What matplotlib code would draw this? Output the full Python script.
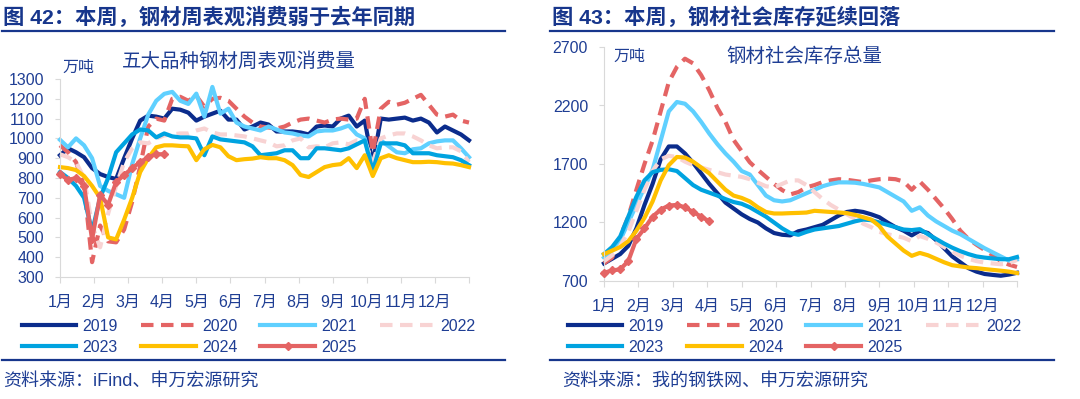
import numpy as np
import matplotlib
matplotlib.use('Agg')
import matplotlib.pyplot as plt
from matplotlib.lines import Line2D

plt.rcParams['font.family'] = ['Liberation Sans', 'Noto Sans CJK SC', 'DejaVu Sans']

TXT = '#1F3E94'
NAVY = '#17368C'
years = ['2019', '2020', '2021', '2022', '2023', '2024', '2025']
colors = ['#0B2C8C', '#E46464', '#5FD0FF', '#F8D3D3', '#00A3E0', '#FFC000', '#E46464']
months = ['1月', '2月', '3月', '4月', '5月', '6月', '7月', '8月', '9月', '10月', '11月', '12月']

# 五大品种钢材周表观消费量 (万吨), weekly
cons_2019 = [915, 950, 930, 905, 850, 820, 805, 795, 900, 1000, 1090, 1115, 1110, 1100, 1150, 1145, 1130, 1090,
             1110, 1125, 1140, 1095, 1095, 1045, 1060, 1080, 1070, 1035, 1035, 1035, 1030, 1020, 1060, 1065, 1060,
             1100, 1115, 1060, 1090, 870, 1100, 1095, 1100, 1105, 1090, 1100, 1080, 1030, 1060, 1040, 1020, 990]
cons_2020 = [965, 930, 880, 760, 375, 560, 480, 475, 540, 680, 860, 1060, 1100, 1090, 1200, 1210, 1190, 1215,
             1160, 1200, 1205, 1190, 1150, 1110, 1080, 1060, 1055, 1050, 1060, 1080, 1095, 1100, 1090, 1080, 1095,
             1100, 1095, 1100, 1200, 930, 1150, 1185, 1170, 1180, 1200, 1220, 1170, 1120, 1110, 1120, 1090, 1080]
cons_2021 = [993, 955, 1000, 965, 900, 760, 735, 718, 700, 870, 1000, 1120, 1190, 1225, 1235, 1190, 1174, 1226,
             1110, 1260, 1125, 1150, 1080, 1060, 1050, 1040, 1060, 1045, 1030, 1025, 1015, 1010, 1035, 1040, 1040,
             1050, 1065, 1020, 1000, 850, 990, 960, 930, 925, 945, 950, 975, 985, 990, 990, 950, 905]
cons_2022 = [920, 905, 880, 800, 560, 450, 620, 760, 880, 950, 980, 975, 1000, 1015, 1020, 1025, 1025, 1040,
             1050, 1030, 1020, 1020, 1015, 1010, 1000, 990, 980, 960, 965, 990, 1000, 955, 960, 955, 975,
             980, 970, 990, 985, 880, 1000, 1015, 1025, 1025, 1010, 990, 965, 950, 955, 955, 935, 880]
cons_2023 = [830, 800, 760, 700, 530, 700, 800, 930, 975, 1020, 1045, 1040, 1005, 1025, 1010, 1005, 1005, 1000,
             915, 1010, 995, 990, 985, 980, 960, 915, 920, 925, 940, 940, 900, 900, 950, 950, 945,
             940, 950, 970, 990, 835, 975, 975, 975, 965, 925, 925, 925, 915, 910, 905, 890, 865]
cons_2024 = [855, 850, 840, 810, 760, 700, 500, 490, 590, 700, 830, 900, 955, 965, 965, 962, 960, 890,
             945, 967, 955, 910, 890, 895, 898, 905, 900, 900, 890, 865, 815, 805, 830, 855, 865,
             870, 900, 850, 915, 810, 900, 915, 900, 890, 880, 880, 882, 880, 875, 873, 865, 855]
cons_2025 = [820, 790, 800, 760, 490, 715, 665, 780, 815, 850, 880, 905, 920, 920]

# 钢材社会库存总量 (万吨), weekly
stock_2019 = [850, 890, 930, 1000, 1150, 1350, 1530, 1740, 1850, 1850, 1790, 1710, 1620, 1530, 1450, 1370, 1320,
              1270, 1230, 1200, 1150, 1110, 1095, 1090, 1125, 1140, 1160, 1180, 1220, 1260, 1290, 1300, 1290,
              1270, 1245, 1200, 1160, 1130, 1090, 1130, 1110, 1050, 980, 910, 860, 810, 780, 760, 752, 745, 755, 770]
stock_2020 = [850, 900, 1080, 1250, 1480, 1700, 1900, 2150, 2400, 2530, 2600, 2560, 2460, 2330, 2180, 2060, 1906,
              1810, 1715, 1650, 1590, 1530, 1477, 1440, 1460, 1500, 1520, 1545, 1560, 1570, 1565, 1555, 1545,
              1560, 1570, 1575, 1570, 1550, 1480, 1550, 1480, 1400, 1320, 1230, 1130, 1060, 1010, 965, 920, 870, 840, 820]
stock_2021 = [900, 960, 1050, 1200, 1350, 1500, 1650, 1900, 2150, 2230, 2215, 2150, 2060, 1960, 1870, 1790, 1720,
              1640, 1610, 1520, 1430, 1390, 1380, 1390, 1420, 1450, 1480, 1510, 1530, 1543, 1543, 1540, 1530,
              1515, 1500, 1460, 1420, 1380, 1300, 1330, 1260, 1210, 1170, 1130, 1100, 1060, 1020, 980, 945, 910, 875, 885]
stock_2022 = [870, 920, 1000, 1120, 1300, 1480, 1640, 1740, 1770, 1760, 1720, 1690, 1670, 1650, 1630, 1610, 1600,
              1590, 1570, 1540, 1510, 1500, 1530, 1560, 1560, 1520, 1460, 1400, 1350, 1310, 1270, 1230, 1190,
              1160, 1120, 1100, 1085, 1070, 1040, 1085, 1060, 1030, 990, 950, 915, 890, 870, 857, 850, 843, 850, 880]
stock_2023 = [930, 990, 1080, 1250, 1420, 1560, 1630, 1650, 1655, 1640, 1580, 1520, 1480, 1455, 1430, 1400, 1375,
              1360, 1330, 1290, 1250, 1200, 1150, 1110, 1095, 1120, 1140, 1150, 1160, 1170, 1190, 1210, 1225,
              1220, 1200, 1180, 1160, 1140, 1135, 1143, 1100, 1060, 1020, 985, 955, 930, 910, 900, 893, 886, 886, 905]
stock_2024 = [930, 960, 990, 1040, 1130, 1240, 1380, 1560, 1690, 1760, 1755, 1720, 1670, 1620, 1550, 1480, 1430,
              1410, 1380, 1330, 1290, 1277, 1277, 1280, 1282, 1285, 1300, 1295, 1290, 1286, 1280, 1265, 1245,
              1225, 1170, 1080, 1020, 960, 915, 940, 920, 890, 860, 835, 825, 815, 810, 802, 795, 788, 780, 768]
stock_2025 = [770, 790, 800, 870, 1060, 1150, 1250, 1310, 1345, 1350, 1330, 1290, 1250, 1210]

cons = [cons_2019, cons_2020, cons_2021, cons_2022, cons_2023, cons_2024, cons_2025]
stock = [stock_2019, stock_2020, stock_2021, stock_2022, stock_2023, stock_2024, stock_2025]

W, H = 1080, 399


def px(x, y):
    return x / W, 1 - y / H


def draw(ax, series, ylim, yticks):
    lines = []
    for yr, vals, c in zip(years, series, colors):
        x = np.arange(len(vals))
        if yr == '2025':
            ln, = ax.plot(x, vals, color=c, lw=3, marker='D', ms=4.5, zorder=5, clip_on=False)
        elif yr in ('2020', '2022'):
            ln, = ax.plot(x, vals, color=c, lw=3, ls=(0, (3, 1.8)), clip_on=False)
        else:
            ln, = ax.plot(x, vals, color=c, lw=3, clip_on=False)
        lines.append(ln)
    ax.set_xlim(0, 51)
    ax.set_ylim(*ylim)
    ax.set_xticks(np.arange(13) * 51 / 12)
    ax.set_xticklabels(months + [''])
    ax.set_yticks(yticks)
    for s in ['top', 'right']:
        ax.spines[s].set_visible(False)
    for s in ['left', 'bottom']:
        ax.spines[s].set_color('#D9D9D9')
    ax.tick_params(axis='x', length=4, color='#D9D9D9', pad=9, labelsize=11.5, labelcolor=TXT)
    ax.tick_params(axis='y', length=3.5, color='#D9D9D9', pad=8, labelsize=11.5, labelcolor=TXT)
    return lines


fig = plt.figure(figsize=(10.8, 3.99), dpi=100)

ax1 = fig.add_axes([60 / W, 1 - 277 / H, 409 / W, 198 / H])
l1 = draw(ax1, cons, (300, 1300), range(300, 1301, 100))

ax2 = fig.add_axes([604 / W, 1 - 281 / H, 413 / W, 234 / H])
l2 = draw(ax2, stock, (700, 2700), range(700, 2701, 500))

# titles and rules
fig.text(*px(3, 17), '图 42：本周，钢材周表观消费弱于去年同期', fontsize=15.3, weight='bold', color=NAVY, va='center')
fig.text(*px(552, 17), '图 43：本周，钢材社会库存延续回落', fontsize=15.3, weight='bold', color=NAVY, va='center')
for x0, x1 in [(2, 505), (550, 1054)]:
    fig.add_artist(Line2D([x0 / W, x1 / W], [1 - 31 / H] * 2, color=NAVY, lw=1.6))
    fig.add_artist(Line2D([x0 / W, x1 / W], [1 - 360 / H] * 2, color=NAVY, lw=1.6))

fig.text(*px(239, 62), '五大品种钢材周表观消费量', fontsize=14, color=TXT, ha='center', va='center')
fig.text(*px(62, 67), '万吨', fontsize=11.5, color=TXT, va='center')
fig.text(*px(804, 57), '钢材社会库存总量', fontsize=14, color=TXT, ha='center', va='center')
fig.text(*px(613, 56), '万吨', fontsize=11.5, color=TXT, va='center')

# legends: 4 columns, row-major order
order = [0, 4, 1, 5, 2, 6, 3]
for lines, x0 in [(l1, 22), (l2, 568)]:
    fig.legend([lines[i] for i in order], [years[i] for i in order], ncol=4, loc='upper left',
               bbox_to_anchor=px(x0, 319), frameon=False, fontsize=11.5, labelcolor=TXT,
               handlelength=3.4, handletextpad=0.4, columnspacing=1.45, labelspacing=0.35,
               borderpad=0, borderaxespad=0, numpoints=1)

fig.text(*px(3, 381), '资料来源：iFind、申万宏源研究', fontsize=13, color=TXT, va='center')
fig.text(*px(562, 381), '资料来源：我的钢铁网、申万宏源研究', fontsize=13, color=TXT, va='center')

fig.savefig('out.png', dpi=100)
